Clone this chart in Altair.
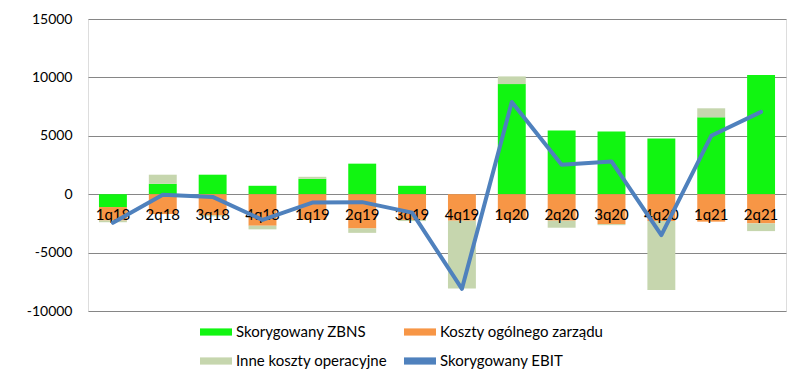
import altair as alt
import pandas as pd

categories = ["1q18", "2q18", "3q18", "4q18", "1q19", "2q19", "3q19", "4q19",
              "1q20", "2q20", "3q20", "4q20", "1q21", "2q21"]
zbns = [-1100, 890, 1670, 720, 1320, 2615, 720, 0, 9425, 5460, 5370, 4770, 6580, 10200]
koszty = [-1150, -1700, -1800, -2700, -2200, -2930, -2200, -2270, -2200, -2270, -2560, -2300, -2350, -2500]
inne = [-150, 780, -100, -310, 170, -380, -100, -5800, 660, -600, -90, -5900, 775, -660]
ebit = [-2450, -50, -230, -2200, -720, -680, -1580, -8100, 7900, 2530, 2800, -3500, 5000, 7050]

series_names = ["Skorygowany ZBNS", "Koszty ogólnego zarządu", "Inne koszty operacyjne", "Skorygowany EBIT"]
colors = ["#11F511", "#F79646", "#C6D6AE", "#4F81BD"]
legend_order = ["Skorygowany ZBNS", "Inne koszty operacyjne", "Koszty ogólnego zarządu", "Skorygowany EBIT"]

rows = []
for i, c in enumerate(categories):
    for k, (name, vals) in enumerate(zip(series_names[:3], [zbns, koszty, inne])):
        rows.append({"cat": c, "series": name, "value": vals[i], "order": k})
bars_df = pd.DataFrame(rows)
line_df = pd.DataFrame({"cat": categories, "value": ebit, "series": series_names[3]})
lab_df = pd.DataFrame({"cat": categories, "zero": [0] * len(categories)})

FONT = "Lato"

x_scale = alt.Scale(domain=categories, paddingInner=0.44, paddingOuter=0.22)
y_scale = alt.Scale(domain=[-10000, 15000], nice=False, zero=False)
color_scale = alt.Scale(domain=series_names, range=colors)

y_axis = alt.Axis(values=[-10000, -5000, 0, 5000, 10000, 15000], title=None, ticks=False,
                  domain=False, grid=True, gridColor="#868686", gridWidth=1,
                  labelFont=FONT, labelFontSize=14, labelColor="#000000",
                  labelPadding=16, minExtent=80, maxExtent=80,
                  labelExpr="'' + datum.value")

legend = alt.Legend(title=None, orient="none", legendX=112, legendY=305, columns=2,
                    values=legend_order,
                    symbolType="M-1,-0.45H3V0.45H-1Z", symbolSize=256, symbolStrokeWidth=0,
                    labelFont=FONT, labelFontSize=15, labelColor="#000000", labelOffset=20,
                    columnPadding=17, rowPadding=13, labelLimit=300, symbolOpacity=1)

bars = alt.Chart(bars_df).mark_bar().encode(
    x=alt.X("cat:N", scale=x_scale, axis=None, sort=categories),
    y=alt.Y("value:Q", scale=y_scale, axis=y_axis, stack="zero"),
    color=alt.Color("series:N", scale=color_scale, legend=legend),
    order=alt.Order("order:Q"),
)

labels = alt.Chart(lab_df).mark_text(font=FONT, fontSize=15, color="#000000", dy=21,
                                     baseline="middle", align="center").encode(
    x=alt.X("cat:N", scale=x_scale, axis=None, sort=categories),
    y=alt.Y("zero:Q", scale=y_scale),
    text="cat:N",
)

line = alt.Chart(line_df).mark_line(strokeWidth=4, strokeJoin="round", strokeCap="round").encode(
    x=alt.X("cat:N", scale=x_scale, axis=None, sort=categories),
    y=alt.Y("value:Q", scale=y_scale),
    color=alt.Color("series:N", scale=color_scale, legend=legend),
)

chart = alt.layer(bars, labels, line).properties(
    width=698, height=292,
    padding={"left": 0, "top": 4, "right": 10, "bottom": 0},
).configure_view(stroke=None).configure(background="#ffffff")

chart.save("out.html", embed_options={"renderer": "svg", "actions": False})
